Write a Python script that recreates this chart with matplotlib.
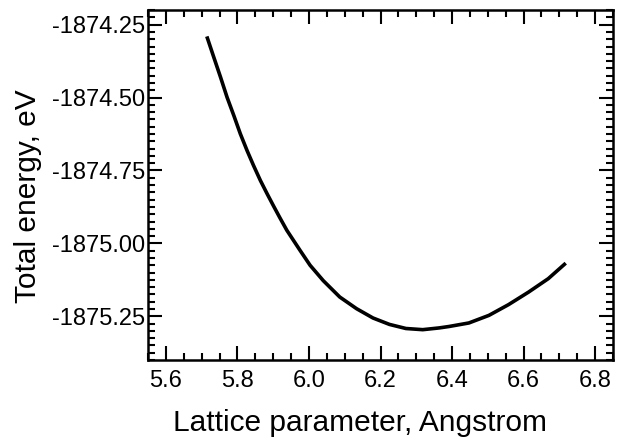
import matplotlib
matplotlib.use("Agg")
import matplotlib.pyplot as plt
from matplotlib.ticker import MultipleLocator, FormatStrFormatter

# lattice parameter (Angstrom) and total energy (eV)
lattice = [5.716, 5.734, 5.753, 5.771, 5.790, 5.808, 5.827, 5.845, 5.864,
           5.883, 5.901, 5.919, 5.938, 5.975, 6.003, 6.040, 6.086, 6.133,
           6.179, 6.225, 6.271, 6.318, 6.364, 6.392, 6.447, 6.503, 6.558,
           6.614, 6.669, 6.714]
energy = [-1874.296, -1874.362, -1874.431, -1874.499, -1874.562, -1874.624,
          -1874.682, -1874.733, -1874.784, -1874.830, -1874.872, -1874.913,
          -1874.955, -1875.024, -1875.075, -1875.128, -1875.184, -1875.224,
          -1875.256, -1875.278, -1875.292, -1875.296, -1875.290, -1875.285,
          -1875.273, -1875.247, -1875.210, -1875.167, -1875.121, -1875.072]

plt.rcParams['font.family'] = ['Liberation Sans', 'DejaVu Sans']

fig = plt.figure(figsize=(6.23, 4.41), dpi=100)
ax = fig.add_axes([0.2376, 0.1837, 0.984 - 0.2376, 0.977 - 0.1837])

ax.plot(lattice, energy, color='black', linewidth=2.6)

ax.set_xlim(5.55, 6.85)
ax.set_ylim(-1875.40, -1874.20)

ax.xaxis.set_major_locator(MultipleLocator(0.2))
ax.xaxis.set_minor_locator(MultipleLocator(0.05))
ax.yaxis.set_major_locator(MultipleLocator(0.25))
ax.yaxis.set_minor_locator(MultipleLocator(0.025))
ax.xaxis.set_major_formatter(FormatStrFormatter('%.1f'))
ax.yaxis.set_major_formatter(FormatStrFormatter('%.2f'))

ax.tick_params(which='both', direction='in', top=True, right=True, width=1.5)
ax.tick_params(which='major', length=10, labelsize=17)
ax.tick_params(which='minor', length=5)
ax.tick_params(axis='x', which='major', pad=7)
ax.tick_params(axis='y', which='major', pad=2)
for s in ax.spines.values():
    s.set_linewidth(1.8)

ax.set_xlabel('Lattice parameter, Angstrom', fontsize=21.5)
ax.set_ylabel('Total energy, eV', fontsize=21.5)
ax.xaxis.set_label_coords(0.456, -0.14)
ax.yaxis.set_label_coords(-0.228, 0.467)

fig.savefig('out.png', dpi=100)
